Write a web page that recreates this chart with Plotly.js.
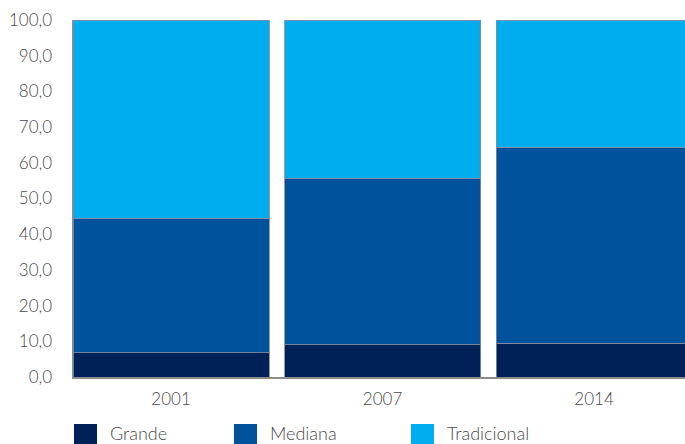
<!DOCTYPE html>
<html>
<head>
<meta charset="utf-8">
<script src="https://cdn.plot.ly/plotly-3.0.1.min.js"></script>
<style>html,body{margin:0;padding:0;background:#fff;}#chart{width:685px;height:444px;}</style>
</head>
<body>
<div id="chart"></div>
<script>
var categories = ['2001', '2007', '2014'];
var seriesNames = ['Grande', 'Mediana', 'Tradicional'];
var grande = [6.8, 9.1, 9.4];
var mediana = [37.7, 46.6, 54.9];
var tradicional = [55.5, 44.3, 35.7];
var colors = ['#002157', '#00529c', '#00aeef'];
var yTicks = [0, 10, 20, 30, 40, 50, 60, 70, 80, 90, 100];

var seriesValues = [grande, mediana, tradicional];
var FONT = 'Lato, "DejaVu Sans", sans-serif';
var TXT = '#4a4a4a';

var traces = seriesValues.map(function (vals, i) {
  return {
    type: 'bar',
    name: seriesNames[i],
    x: categories,
    y: vals,
    marker: { color: colors[i], line: { color: 'rgba(130,140,160,0.85)', width: 1 } },
    showlegend: false,
    hoverinfo: 'x+y+name'
  };
});

// custom legend (large square swatches)
var legendX = [74, 234, 411];
var shapes = [];
var annotations = [];
seriesNames.forEach(function (n, i) {
  shapes.push({
    type: 'rect', xref: 'paper', yref: 'paper',
    x0: (legendX[i] - 73) / 612, x1: (legendX[i] + 23 - 73) / 612,
    y0: (377 - 444) / 357, y1: (377 - 424) / 357,
    fillcolor: colors[i], line: { width: 0 }
  });
  annotations.push({
    xref: 'paper', yref: 'paper',
    x: (legendX[i] + 34 - 73) / 612, y: (377 - 433) / 357,
    xanchor: 'left', yanchor: 'middle',
    text: n, showarrow: false,
    font: { family: FONT, size: 18, color: TXT, weight: 300 }
  });
});

var layout = {
  width: 685, height: 444,
  margin: { l: 73, r: 0, t: 20, b: 67, pad: 0 },
  paper_bgcolor: '#ffffff', plot_bgcolor: '#ffffff',
  barmode: 'stack',
  bargap: 0.073,
  separators: ',.',
  font: { family: FONT, size: 17, color: TXT, weight: 300 },
  xaxis: {
    type: 'category',
    range: [-0.4635, 2.43],
    showline: true, linecolor: '#8c8c8c', linewidth: 1.5,
    showgrid: false, zeroline: false,
    ticks: '', ticklabelstandoff: 6,
    tickfont: { family: FONT, size: 17, color: TXT, weight: 300 }
  },
  yaxis: {
    range: [0, 100],
    tickvals: yTicks,
    tickformat: '.1f',
    showline: true, linecolor: '#8c8c8c', linewidth: 1.5,
    showgrid: false, zeroline: false,
    ticks: '', ticklabelstandoff: 16,
    tickfont: { family: FONT, size: 17, color: TXT, weight: 300 }
  },
  shapes: shapes,
  annotations: annotations
};

Plotly.newPlot('chart', traces, layout, { displayModeBar: false, staticPlot: true });
</script>
</body>
</html>
